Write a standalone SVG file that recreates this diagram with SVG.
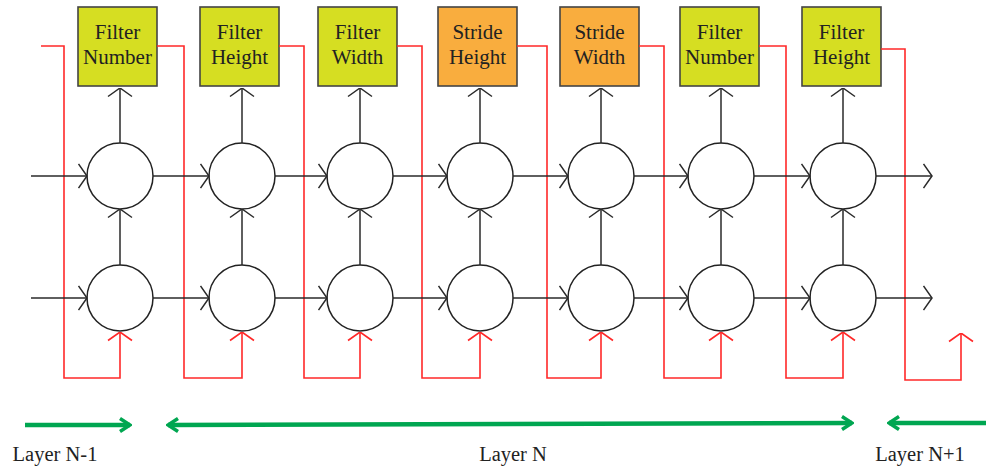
<svg xmlns="http://www.w3.org/2000/svg" width="986" height="470" viewBox="0 0 986 470">
  <style>
    .box{stroke:#444;stroke-width:1.6}
    .fil{fill:#d6de22}
    .str{fill:#f9ad3e}
    .lbl{font-family:"Liberation Serif","DejaVu Serif",serif;font-size:21px;fill:#222;text-anchor:middle}
    .cell{fill:#fff;stroke:#222;stroke-width:1.5}
    .blk{fill:none;stroke:#2a2a2a;stroke-width:1.5}
    .red{fill:none;stroke:#ff2828;stroke-width:1.6}
    .grn{fill:none;stroke:#00a651;stroke-width:4.5}
    .cap{font-family:"Liberation Serif","DejaVu Serif",serif;font-size:20.5px;fill:#222;text-anchor:middle}
  </style>
  <defs>
    <marker id="chev" viewBox="0 0 10 26" refX="9.5" refY="13" markerWidth="10" markerHeight="26" markerUnits="userSpaceOnUse" orient="auto">
      <polyline points="1,1 9.5,13 1,25" fill="none" stroke="#2a2a2a" stroke-width="1.5"/>
    </marker>
    <marker id="chevR" viewBox="0 0 10 26" refX="9.5" refY="13" markerWidth="10" markerHeight="26" markerUnits="userSpaceOnUse" orient="auto">
      <polyline points="1,1 9.5,13 1,25" fill="none" stroke="#ff2828" stroke-width="1.6"/>
    </marker>
    <marker id="gh" viewBox="0 0 14 16" refX="12" refY="8" markerWidth="14" markerHeight="16" markerUnits="userSpaceOnUse" orient="auto-start-reverse">
      <polyline points="2,1.5 12,8 2,14.5" fill="none" stroke="#00a651" stroke-width="3.5"/>
    </marker>
  </defs>

  <!-- parameter boxes -->
  <g id="box1"><rect class="box fil" x="78" y="7" width="79" height="79"/><text class="lbl" x="117.5" y="39">Filter</text><text class="lbl" x="117.5" y="64">Number</text></g>
  <g id="box2"><rect class="box fil" x="200" y="7" width="79" height="79"/><text class="lbl" x="239.5" y="39">Filter</text><text class="lbl" x="239.5" y="64">Height</text></g>
  <g id="box3"><rect class="box fil" x="318" y="7" width="79" height="79"/><text class="lbl" x="357.5" y="39">Filter</text><text class="lbl" x="357.5" y="64">Width</text></g>
  <g id="box4"><rect class="box str" x="438" y="7" width="79" height="79"/><text class="lbl" x="477.5" y="39">Stride</text><text class="lbl" x="477.5" y="64">Height</text></g>
  <g id="box5"><rect class="box str" x="560" y="7" width="79" height="79"/><text class="lbl" x="599.5" y="39">Stride</text><text class="lbl" x="599.5" y="64">Width</text></g>
  <g id="box6"><rect class="box fil" x="680" y="7" width="79" height="79"/><text class="lbl" x="719.5" y="39">Filter</text><text class="lbl" x="719.5" y="64">Number</text></g>
  <g id="box7"><rect class="box fil" x="802" y="7" width="79" height="79"/><text class="lbl" x="841.5" y="39">Filter</text><text class="lbl" x="841.5" y="64">Height</text></g>

  <!-- recurrent cells: upper and lower rows -->
  <g id="cells">
    <g id="c1"><circle class="cell" cx="120" cy="176" r="33"/><circle class="cell" cx="120" cy="298" r="33"/></g>
    <g id="c2"><circle class="cell" cx="242" cy="176" r="33"/><circle class="cell" cx="242" cy="298" r="33"/></g>
    <g id="c3"><circle class="cell" cx="360" cy="176" r="33"/><circle class="cell" cx="360" cy="298" r="33"/></g>
    <g id="c4"><circle class="cell" cx="480" cy="176" r="33"/><circle class="cell" cx="480" cy="298" r="33"/></g>
    <g id="c5"><circle class="cell" cx="601" cy="176" r="33"/><circle class="cell" cx="601" cy="298" r="33"/></g>
    <g id="c6"><circle class="cell" cx="721" cy="176" r="33"/><circle class="cell" cx="721" cy="298" r="33"/></g>
    <g id="c7"><circle class="cell" cx="843" cy="176" r="33"/><circle class="cell" cx="843" cy="298" r="33"/></g>
  </g>

  <!-- connectors -->
  <g id="connectors">
    <!-- red feedback from each output box into the next lower cell -->
    <g id="feedback">
      <polyline class="red" points="41,46 64,46 64,378 120,378 120,332" marker-end="url(#chevR)"/>
      <polyline class="red" points="157,46 184,46 184,378 242,378 242,332" marker-end="url(#chevR)"/>
      <polyline class="red" points="279,46 304,46 304,378 360,378 360,332" marker-end="url(#chevR)"/>
      <polyline class="red" points="397,46 422,46 422,378 480,378 480,332" marker-end="url(#chevR)"/>
      <polyline class="red" points="517,46 547,46 547,378 601,378 601,332" marker-end="url(#chevR)"/>
      <polyline class="red" points="639,46 664,46 664,378 721,378 721,332" marker-end="url(#chevR)"/>
      <polyline class="red" points="759,46 786,46 786,378 843,378 843,332" marker-end="url(#chevR)"/>
      <polyline class="red" points="881,49 905,49 905,380 961,380 961,333" marker-end="url(#chevR)"/>
    </g>

    <!-- upper row horizontal flow -->
    <g id="row-top">
      <line class="blk" x1="31" y1="176" x2="87" y2="176" marker-end="url(#chev)"/>
      <line class="blk" x1="153" y1="176" x2="209" y2="176" marker-end="url(#chev)"/>
      <line class="blk" x1="275" y1="176" x2="327" y2="176" marker-end="url(#chev)"/>
      <line class="blk" x1="393" y1="176" x2="447" y2="176" marker-end="url(#chev)"/>
      <line class="blk" x1="513" y1="176" x2="568" y2="176" marker-end="url(#chev)"/>
      <line class="blk" x1="634" y1="176" x2="688" y2="176" marker-end="url(#chev)"/>
      <line class="blk" x1="754" y1="176" x2="810" y2="176" marker-end="url(#chev)"/>
      <line class="blk" x1="876" y1="176" x2="932" y2="176" marker-end="url(#chev)"/>
    </g>

    <!-- lower row horizontal flow -->
    <g id="row-bottom">
      <line class="blk" x1="31" y1="298" x2="87" y2="298" marker-end="url(#chev)"/>
      <line class="blk" x1="153" y1="298" x2="209" y2="298" marker-end="url(#chev)"/>
      <line class="blk" x1="275" y1="298" x2="327" y2="298" marker-end="url(#chev)"/>
      <line class="blk" x1="393" y1="298" x2="447" y2="298" marker-end="url(#chev)"/>
      <line class="blk" x1="513" y1="298" x2="568" y2="298" marker-end="url(#chev)"/>
      <line class="blk" x1="634" y1="298" x2="688" y2="298" marker-end="url(#chev)"/>
      <line class="blk" x1="754" y1="298" x2="810" y2="298" marker-end="url(#chev)"/>
      <line class="blk" x1="876" y1="298" x2="932" y2="298" marker-end="url(#chev)"/>
    </g>

    <!-- lower cell to upper cell -->
    <g id="vertical-mid">
      <line class="blk" x1="120" y1="265" x2="120" y2="209" marker-end="url(#chev)"/>
      <line class="blk" x1="242" y1="265" x2="242" y2="209" marker-end="url(#chev)"/>
      <line class="blk" x1="360" y1="265" x2="360" y2="209" marker-end="url(#chev)"/>
      <line class="blk" x1="480" y1="265" x2="480" y2="209" marker-end="url(#chev)"/>
      <line class="blk" x1="601" y1="265" x2="601" y2="209" marker-end="url(#chev)"/>
      <line class="blk" x1="721" y1="265" x2="721" y2="209" marker-end="url(#chev)"/>
      <line class="blk" x1="843" y1="265" x2="843" y2="209" marker-end="url(#chev)"/>
    </g>

    <!-- upper cell to parameter box -->
    <g id="vertical-top">
      <line class="blk" x1="120" y1="143" x2="120" y2="88" marker-end="url(#chev)"/>
      <line class="blk" x1="242" y1="143" x2="242" y2="88" marker-end="url(#chev)"/>
      <line class="blk" x1="360" y1="143" x2="360" y2="88" marker-end="url(#chev)"/>
      <line class="blk" x1="480" y1="143" x2="480" y2="88" marker-end="url(#chev)"/>
      <line class="blk" x1="601" y1="143" x2="601" y2="88" marker-end="url(#chev)"/>
      <line class="blk" x1="721" y1="143" x2="721" y2="88" marker-end="url(#chev)"/>
      <line class="blk" x1="843" y1="143" x2="843" y2="88" marker-end="url(#chev)"/>
    </g>

    <!-- layer span arrows -->
    <g id="layers">
      <line class="grn" x1="25" y1="425" x2="130" y2="425" marker-end="url(#gh)"/>
      <line class="grn" x1="168" y1="425" x2="852" y2="423" marker-start="url(#gh)" marker-end="url(#gh)"/>
      <line class="grn" x1="986" y1="423" x2="889" y2="423" marker-end="url(#gh)"/>
    </g>
  </g>

  <g id="layer-labels">
    <text class="cap" x="55" y="461">Layer N-1</text>
    <text class="cap" x="513" y="461">Layer N</text>
    <text class="cap" x="920" y="461">Layer N+1</text>
  </g>
</svg>
